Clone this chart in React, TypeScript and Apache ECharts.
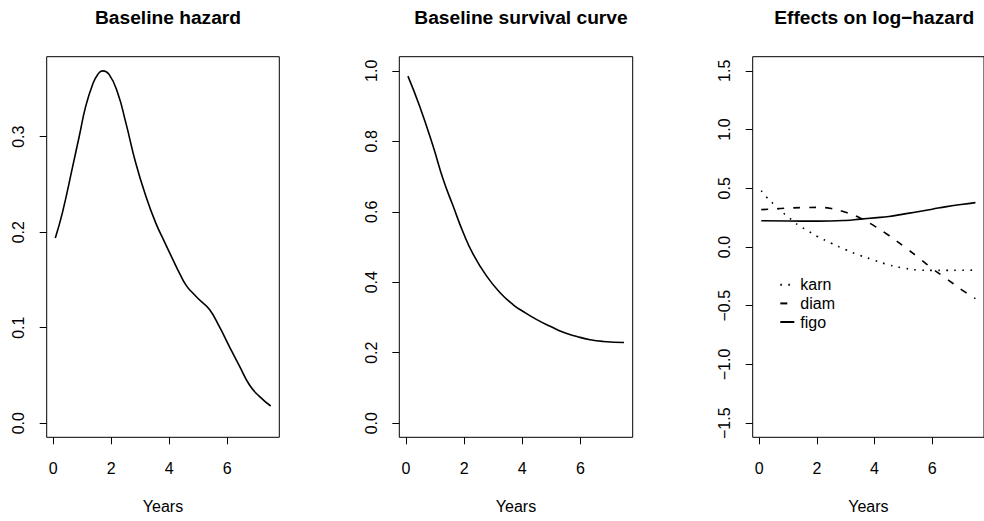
import React, { useEffect, useRef } from "react";
import * as echarts from "echarts";

// Baseline hazard
const hazX = [0.07, 0.32, 0.67, 0.9, 1.12, 1.36, 1.53, 1.7, 1.93, 2.22, 2.5, 2.84, 3.19, 3.53, 3.82, 4.13, 4.37, 4.59, 4.82, 5.05, 5.39, 5.73, 6.08, 6.42, 6.77, 7.11, 7.5];
const hazY = [0.194, 0.221, 0.269, 0.301, 0.332, 0.355, 0.365, 0.369, 0.365, 0.346, 0.315, 0.273, 0.238, 0.21, 0.191, 0.171, 0.156, 0.144, 0.136, 0.129, 0.119, 0.101, 0.08, 0.06, 0.04, 0.028, 0.018];

// Baseline survival
const survX = [0.07, 0.47, 0.93, 1.28, 1.62, 1.97, 2.31, 2.77, 3.23, 3.69, 4.03, 4.5, 4.96, 5.41, 5.88, 6.33, 6.79, 7.5];
const survY = [0.985, 0.9, 0.787, 0.692, 0.617, 0.541, 0.48, 0.418, 0.371, 0.336, 0.317, 0.294, 0.275, 0.258, 0.246, 0.237, 0.232, 0.229];

// Effects on log-hazard
const karnX = [0.07, 0.25, 0.5, 0.75, 1.0, 1.25, 1.5, 1.75, 2.0, 2.5, 3.0, 3.5, 4.0, 4.5, 5.0, 5.5, 6.0, 6.5, 7.0, 7.5];
const karnY = [0.48, 0.425, 0.365, 0.305, 0.257, 0.205, 0.165, 0.129, 0.092, 0.032, -0.023, -0.072, -0.113, -0.152, -0.179, -0.196, -0.199, -0.199, -0.198, -0.197];
const diamX = [0.07, 0.5, 1.0, 1.5, 2.0, 2.5, 3.0, 3.5, 4.0, 4.5, 5.0, 5.5, 6.0, 6.5, 7.0, 7.5];
const diamY = [0.318, 0.324, 0.331, 0.336, 0.337, 0.328, 0.295, 0.247, 0.178, 0.098, 0.008, -0.085, -0.183, -0.27, -0.36, -0.44];
const figoX = [0.07, 1.0, 2.0, 3.0, 3.5, 4.0, 4.5, 5.0, 5.5, 6.0, 6.5, 7.0, 7.5];
const figoY = [0.224, 0.221, 0.22, 0.226, 0.237, 0.248, 0.26, 0.28, 0.3, 0.322, 0.344, 0.362, 0.378];

const xTicks = [0, 2, 4, 6];
const hazTicks = [0, 0.1, 0.2, 0.3];
const survTicks = [0, 0.2, 0.4, 0.6, 0.8, 1.0];
const effTicks = [-1.5, -1.0, -0.5, 0, 0.5, 1.0, 1.5];

const titles = ["Baseline hazard", "Baseline survival curve", "Effects on log\u2212hazard"];
const xLabel = "Years";

const FONT = "'Liberation Sans', Arial, Helvetica, sans-serif";

const zip = (xs: number[], ys: number[]) => xs.map((x, i) => [x, ys[i]]);
const fmt = (v: number) => {
  const s = Math.abs(v).toFixed(1);
  return v < 0 ? "\u2212" + s : s;
};

export default function App() {
  const ref = useRef<HTMLDivElement>(null);
  useEffect(() => {
    if (!ref.current) return;
    const chart = echarts.init(ref.current, null, { renderer: "svg" });
    const grids = [
      { left: 46.7, top: 56.7, width: 232.6, height: 380.6 },
      { left: 399.3, top: 56.7, width: 233.4, height: 380.6 },
      { left: 752.7, top: 56.7, width: 233, height: 380.6 },
    ].map((g) => ({ ...g, show: true, borderColor: "#000", borderWidth: 1, backgroundColor: "transparent", containLabel: false }));
    const centers = grids.map((g) => g.left + g.width / 2);
    const xAxes = grids.map((_, i) => ({
      type: "value",
      gridIndex: i,
      position: "bottom",
      min: -0.227,
      max: 7.797,
      axisLine: { show: false, onZero: false },
      splitLine: { show: false },
      axisTick: { show: true, inside: false, length: 7, lineStyle: { color: "#000" }, customValues: xTicks },
      axisLabel: { color: "#000", fontSize: 16, fontFamily: FONT, margin: 23, customValues: xTicks, formatter: (v: number) => String(v) },
      name: xLabel,
      nameLocation: "middle",
      nameGap: 69,
      nameTextStyle: { color: "#000", fontSize: 16, fontFamily: FONT, verticalAlign: "middle" },
    }));
    const yDefs = [
      { min: -0.0148, max: 0.3838, ticks: hazTicks },
      { min: -0.04, max: 1.04, ticks: survTicks },
      { min: -1.62, max: 1.62, ticks: effTicks },
    ];
    const yAxes = yDefs.map((d, i) => ({
      type: "value",
      gridIndex: i,
      position: "left",
      min: d.min,
      max: d.max,
      axisLine: { show: false, onZero: false },
      splitLine: { show: false },
      axisTick: { show: true, inside: false, length: 7, lineStyle: { color: "#000" }, customValues: d.ticks },
      axisLabel: { color: "#000", fontSize: 16, fontFamily: FONT, margin: 20, rotate: 90, customValues: d.ticks, formatter: fmt },
    }));
    const base = { type: "line", symbol: "none", showSymbol: false, smooth: 0.5, silent: true };
    chart.setOption({
      animation: false,
      backgroundColor: "#fff",
      title: titles.map((t, i) => ({
        text: t,
        left: centers[i],
        top: 1,
        textAlign: "center",
        textStyle: { color: "#000", fontSize: 19.2, fontWeight: "bold", fontFamily: FONT, lineHeight: 22 },
      })),
      grid: grids,
      xAxis: xAxes,
      yAxis: yAxes,
      legend: {
        data: ["karn", "diam", "figo"],
        orient: "vertical",
        left: 779.3,
        top: 275.5,
        itemWidth: 14,
        itemHeight: 10,
        itemGap: 0,
        padding: 0,
        selectedMode: false,
        itemStyle: { opacity: 0 },
        textStyle: { color: "#000", fontSize: 16, fontFamily: FONT, lineHeight: 18.6, padding: [0, 0, 0, 1] },
      },
      series: [
        { ...base, name: "hazard", xAxisIndex: 0, yAxisIndex: 0, data: zip(hazX, hazY), lineStyle: { color: "#000", width: 1.6 } },
        { ...base, name: "survival", xAxisIndex: 1, yAxisIndex: 1, data: zip(survX, survY), lineStyle: { color: "#000", width: 1.6 } },
        { ...base, name: "karn", xAxisIndex: 2, yAxisIndex: 2, data: zip(karnX, karnY), itemStyle: { color: "#000" }, lineStyle: { color: "#000", width: 1.6, type: [1.6, 6.4], cap: "butt" } },
        { ...base, name: "diam", xAxisIndex: 2, yAxisIndex: 2, data: zip(diamX, diamY), itemStyle: { color: "#000" }, lineStyle: { color: "#000", width: 1.6, type: [7, 9], cap: "butt" } },
        { ...base, name: "figo", xAxisIndex: 2, yAxisIndex: 2, data: zip(figoX, figoY), itemStyle: { color: "#000" }, lineStyle: { color: "#000", width: 1.6 } },
      ],
    });
    return () => chart.dispose();
  }, []);
  return <div ref={ref} style={{ position: "absolute", left: 0, top: 0, width: 984, height: 521 }} />;
}
